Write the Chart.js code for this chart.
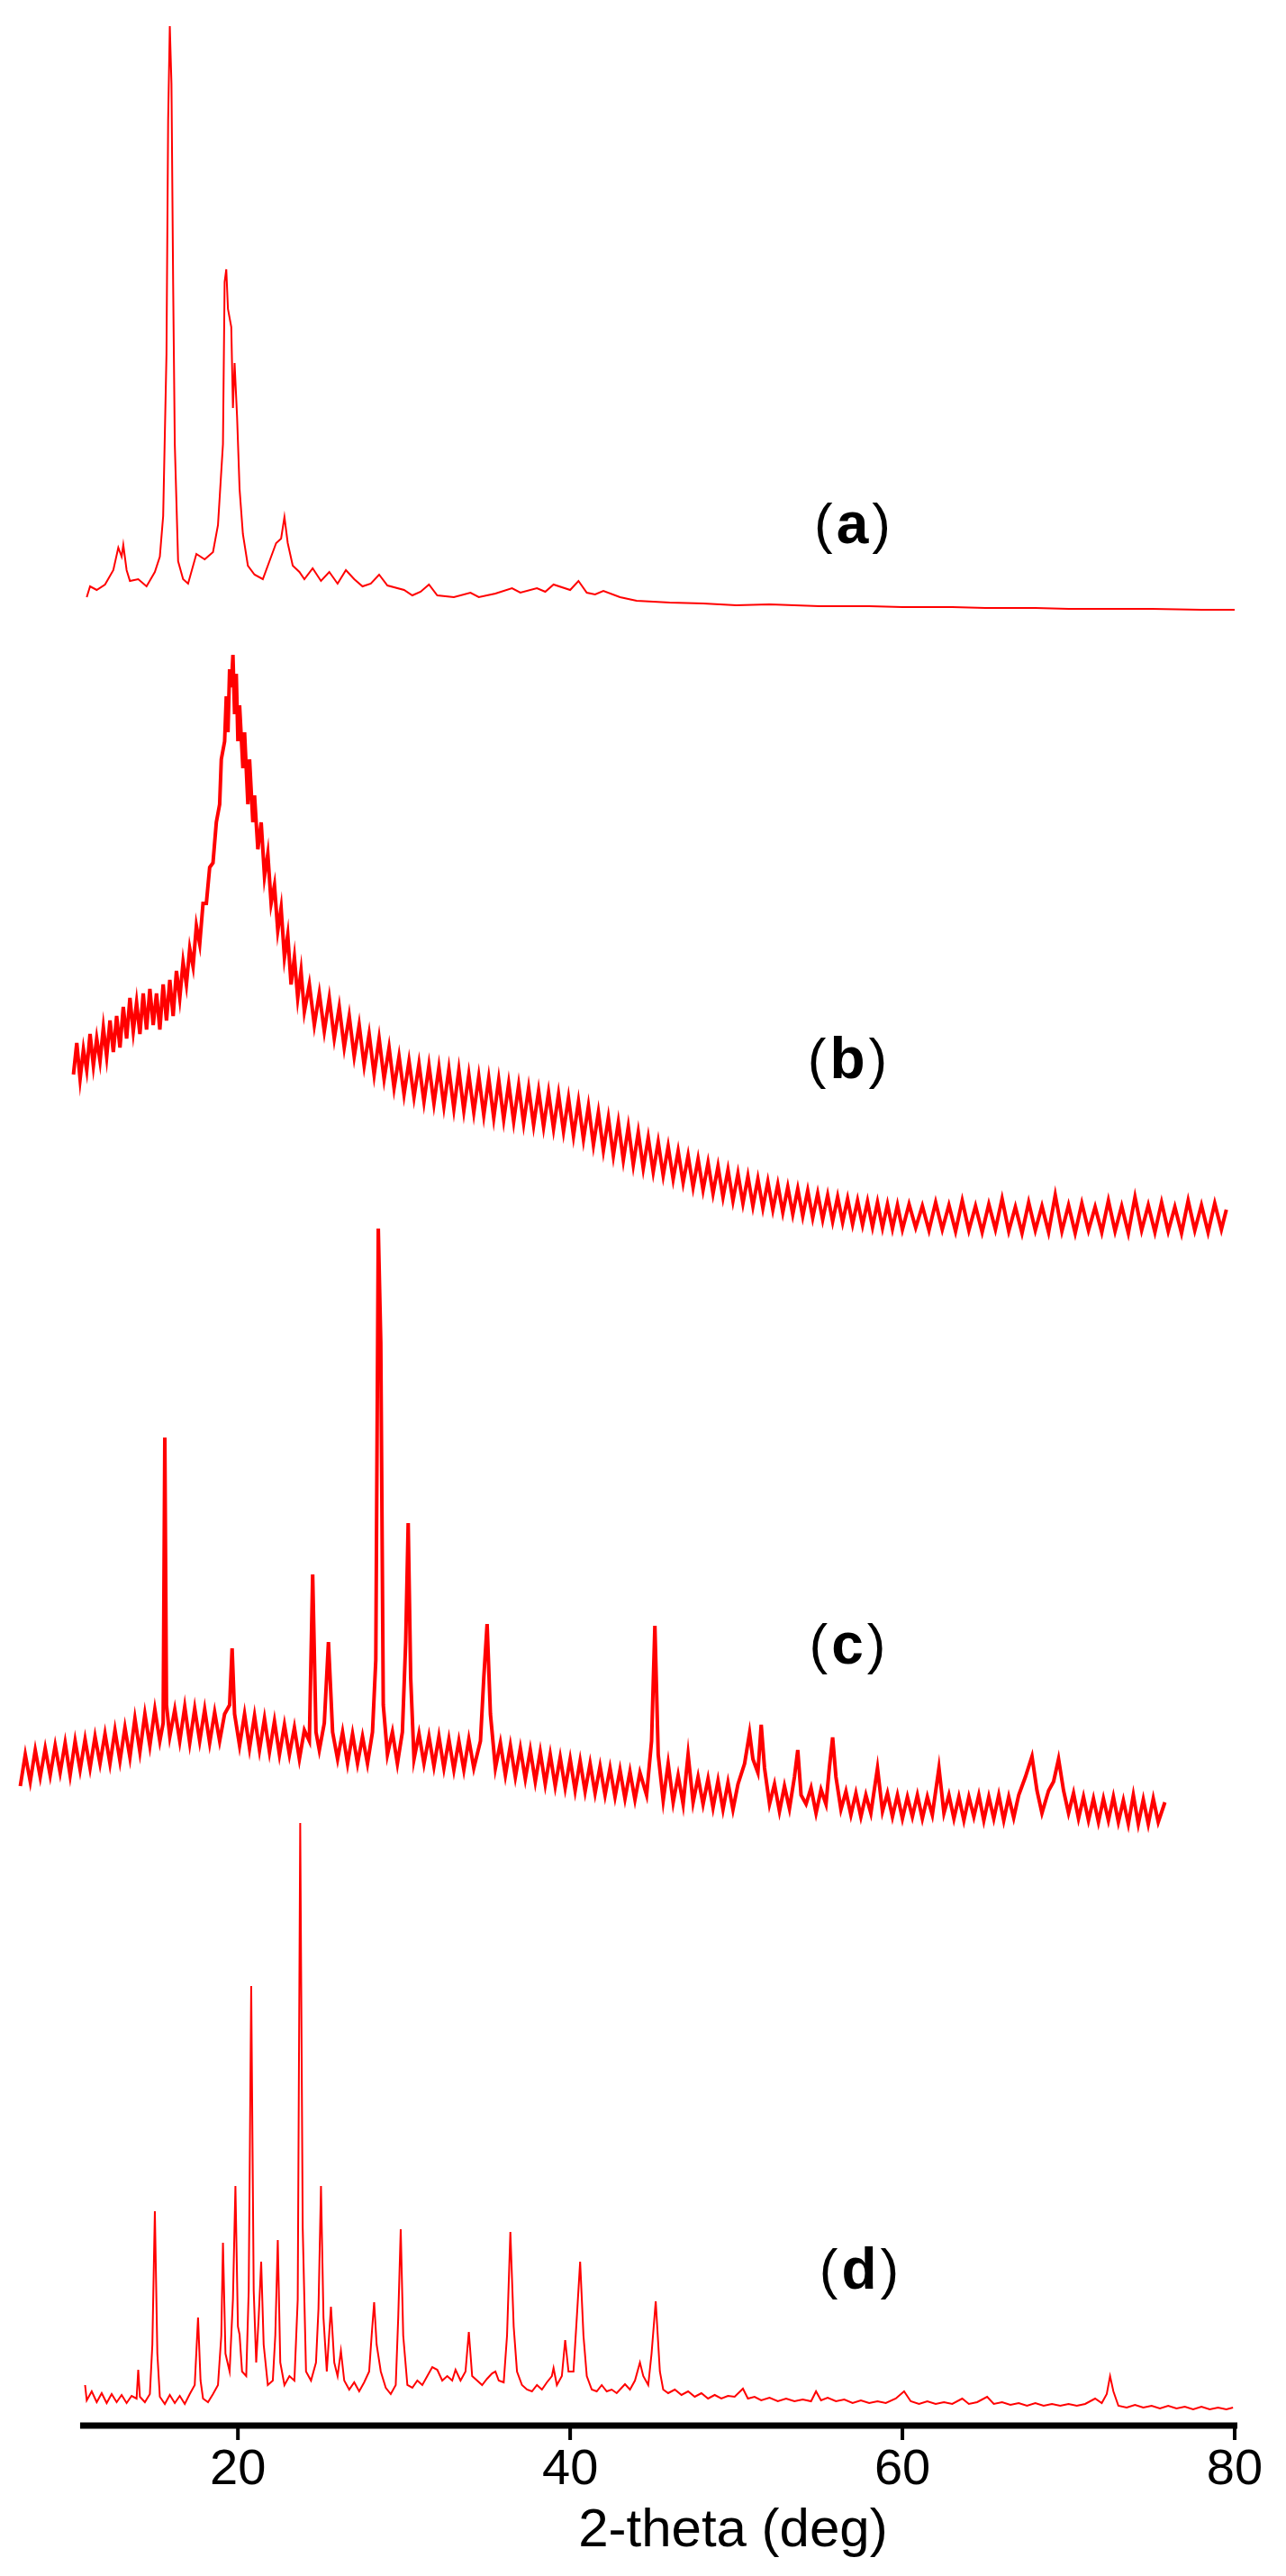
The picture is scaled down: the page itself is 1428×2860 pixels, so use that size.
<!DOCTYPE html>
<html><head><meta charset="utf-8">
<script src="https://cdn.jsdelivr.net/npm/chart.js@4/dist/chart.umd.min.js"></script>
<style>html,body{margin:0;padding:0;background:#fff}#w{width:1428px;height:2860px}</style>
</head><body><div id="w"><canvas id="c"></canvas></div>
<script>
// x: 2-theta (deg); y: stacked intensity (arbitrary units, offset per pattern)
const xTicks = [20, 40, 60, 80];
const panelLabels = ["a", "b", "c", "d"];
const seriesA = [[10.9,2030],[11.1,2042],[11.5,2038],[12,2044],[12.5,2060],[12.8,2085],[13.0,2075],[13.1,2088],[13.3,2060],[13.5,2048],[14,2050],[14.5,2042],[15,2058],[15.3,2075],[15.5,2120],[15.7,2300],[15.8,2560],[15.9,2664],[16.0,2600],[16.1,2380],[16.2,2200],[16.4,2070],[16.7,2050],[17,2045],[17.5,2078],[18,2072],[18.5,2080],[18.8,2110],[19.1,2200],[19.2,2380],[19.3,2394],[19.4,2350],[19.6,2330],[19.7,2240],[19.8,2290],[19.95,2230],[20.1,2150],[20.3,2100],[20.6,2065],[21,2055],[21.5,2050],[22,2075],[22.3,2090],[22.6,2095],[22.8,2119],[23,2090],[23.3,2065],[23.7,2058],[24,2050],[24.5,2062],[25,2048],[25.5,2058],[26,2045],[26.5,2060],[27,2050],[27.5,2042],[28,2045],[28.5,2055],[29,2043],[30,2038],[30.5,2032],[31,2036],[31.5,2044],[32,2032],[33,2030],[34,2035],[34.5,2030],[35.5,2034],[36.5,2040],[37,2035],[38,2040],[38.5,2036],[39,2044],[40,2038],[40.5,2048],[41,2035],[41.5,2033],[42,2037],[43,2030],[44,2026],[46,2024],[48,2023],[50,2021],[52,2022],[55,2020],[58,2020],[60,2019],[63,2019],[65,2018],[68,2018],[70,2017],[73,2017],[75,2017],[78,2016],[80,2016]];
const seriesB = [[10.1,1500],[10.3,1535],[10.5,1495],[10.7,1528],[10.9,1505],[11.1,1545],[11.3,1510],[11.5,1540],[11.7,1515],[11.9,1552],[12.1,1520],[12.3,1560],[12.5,1525],[12.7,1565],[12.9,1530],[13.1,1575],[13.3,1540],[13.5,1585],[13.7,1548],[13.9,1580],[14.1,1545],[14.3,1590],[14.5,1550],[14.7,1595],[14.9,1555],[15.1,1590],[15.3,1550],[15.5,1600],[15.7,1560],[15.9,1605],[16.1,1565],[16.3,1615],[16.5,1585],[16.7,1625],[16.9,1600],[17.1,1640],[17.3,1620],[17.5,1665],[17.7,1645],[17.9,1690],[18.1,1690],[18.3,1730],[18.5,1735],[18.7,1780],[18.9,1800],[19.0,1850],[19.2,1870],[19.3,1920],[19.4,1880],[19.5,1950],[19.6,1930],[19.7,1966],[19.8,1900],[19.9,1945],[20.0,1870],[20.1,1910],[20.3,1840],[20.4,1880],[20.6,1800],[20.7,1850],[20.9,1780],[21.0,1810],[21.2,1750],[21.4,1780],[21.6,1720],[21.8,1745],[22.0,1690],[22.2,1710],[22.4,1660],[22.6,1685],[22.8,1630],[23.0,1655],[23.2,1600],[23.4,1630],[23.6,1585],[23.8,1615],[24.0,1570],[24.3,1600],[24.6,1555],[24.9,1590],[25.2,1548],[25.5,1585],[25.8,1540],[26.1,1575],[26.4,1530],[26.7,1565],[27.0,1520],[27.3,1555],[27.6,1510],[27.9,1545],[28.2,1500],[28.5,1540],[28.8,1495],[29.1,1530],[29.4,1485],[29.7,1520],[30.0,1478],[30.3,1515],[30.6,1475],[30.9,1512],[31.2,1470],[31.5,1510],[31.8,1468],[32.1,1508],[32.4,1465],[32.7,1506],[33.0,1462],[33.3,1505],[33.6,1460],[33.9,1500],[34.2,1458],[34.5,1498],[34.8,1455],[35.1,1496],[35.4,1452],[35.7,1494],[36.0,1450],[36.3,1490],[36.6,1448],[36.9,1488],[37.2,1446],[37.5,1485],[37.8,1444],[38.1,1482],[38.4,1442],[38.7,1480],[39.0,1440],[39.3,1478],[39.6,1437],[39.9,1474],[40.2,1432],[40.5,1470],[40.8,1428],[41.1,1465],[41.4,1422],[41.7,1458],[42.0,1416],[42.3,1452],[42.6,1410],[42.9,1447],[43.2,1405],[43.5,1442],[43.8,1400],[44.1,1436],[44.4,1396],[44.7,1430],[45.0,1392],[45.3,1425],[45.6,1388],[45.9,1420],[46.2,1384],[46.5,1415],[46.8,1380],[47.1,1410],[47.4,1375],[47.7,1406],[48.0,1372],[48.3,1402],[48.6,1368],[48.9,1398],[49.2,1364],[49.5,1394],[49.8,1360],[50.1,1390],[50.4,1357],[50.7,1387],[51.0,1354],[51.3,1384],[51.6,1352],[51.9,1381],[52.2,1350],[52.5,1378],[52.8,1347],[53.1,1375],[53.4,1345],[53.7,1373],[54.0,1343],[54.3,1371],[54.6,1341],[54.9,1368],[55.2,1339],[55.5,1366],[55.8,1337],[56.1,1364],[56.4,1336],[56.7,1362],[57.0,1334],[57.3,1360],[57.6,1333],[57.9,1359],[58.2,1331],[58.5,1358],[58.8,1330],[59.1,1356],[59.4,1329],[59.7,1355],[60.0,1328],[60.4,1356],[60.8,1330],[61.2,1354],[61.6,1327],[62.0,1358],[62.4,1328],[62.8,1355],[63.2,1326],[63.6,1360],[64.0,1327],[64.4,1354],[64.8,1325],[65.2,1356],[65.6,1328],[66.0,1362],[66.4,1326],[66.8,1353],[67.2,1324],[67.6,1358],[68.0,1327],[68.4,1354],[68.8,1325],[69.2,1366],[69.6,1326],[70.0,1355],[70.4,1324],[70.8,1357],[71.2,1327],[71.6,1353],[72.0,1325],[72.4,1360],[72.8,1326],[73.2,1354],[73.6,1324],[74.0,1364],[74.4,1327],[74.8,1355],[75.2,1325],[75.6,1358],[76.0,1326],[76.4,1353],[76.8,1324],[77.2,1360],[77.6,1327],[78.0,1355],[78.4,1325],[78.8,1357],[79.2,1328],[79.5,1350]];
const seriesC = [[6.9,710],[7.2,745],[7.5,715],[7.8,750],[8.1,720],[8.4,752],[8.7,722],[9.0,755],[9.3,725],[9.6,758],[9.9,722],[10.2,760],[10.5,728],[10.8,762],[11.1,730],[11.4,765],[11.7,735],[12.0,768],[12.3,735],[12.6,772],[12.9,738],[13.2,775],[13.5,742],[13.8,785],[14.1,748],[14.4,790],[14.7,755],[15.0,795],[15.3,760],[15.5,780],[15.6,1097],[15.7,800],[15.9,765],[16.2,795],[16.5,760],[16.8,798],[17.1,758],[17.4,796],[17.7,760],[18.0,795],[18.3,758],[18.6,792],[18.9,760],[19.2,790],[19.5,800],[19.65,863],[19.8,790],[20.1,755],[20.4,790],[20.7,752],[21.0,788],[21.3,750],[21.6,785],[21.9,748],[22.2,782],[22.5,745],[22.8,778],[23.1,745],[23.4,775],[23.7,740],[24.0,772],[24.3,760],[24.5,945],[24.7,770],[24.9,750],[25.2,780],[25.45,870],[25.7,770],[26.0,740],[26.3,770],[26.6,735],[26.9,768],[27.2,735],[27.5,765],[27.8,735],[28.1,770],[28.3,850],[28.45,1329],[28.6,1202],[28.75,800],[29.0,745],[29.3,770],[29.6,735],[29.9,770],[30.1,870],[30.25,1002],[30.4,830],[30.6,740],[30.9,768],[31.2,735],[31.5,765],[31.8,732],[32.1,765],[32.4,730],[32.7,762],[33.0,728],[33.3,760],[33.6,728],[33.9,762],[34.2,730],[34.6,760],[34.8,830],[35.0,890],[35.2,790],[35.5,730],[35.8,758],[36.1,722],[36.4,755],[36.7,720],[37.0,752],[37.3,718],[37.6,750],[37.9,715],[38.2,748],[38.5,712],[38.8,745],[39.1,710],[39.4,742],[39.7,708],[40.0,740],[40.3,705],[40.6,738],[40.9,704],[41.2,735],[41.5,702],[41.8,732],[42.1,700],[42.4,730],[42.7,698],[43.0,728],[43.3,696],[43.6,726],[43.9,695],[44.2,725],[44.6,700],[44.9,760],[45.1,888],[45.3,745],[45.6,694],[45.9,735],[46.2,692],[46.5,722],[46.8,690],[47.1,745],[47.4,692],[47.7,720],[48.0,690],[48.3,718],[48.6,686],[48.9,716],[49.2,684],[49.5,714],[49.8,684],[50.1,712],[50.5,735],[50.8,769],[51.0,740],[51.3,725],[51.5,778],[51.7,730],[52.0,690],[52.3,712],[52.6,682],[52.9,710],[53.2,685],[53.5,720],[53.7,750],[53.9,700],[54.2,690],[54.5,708],[54.8,680],[55.1,706],[55.4,690],[55.6,730],[55.8,764],[56.0,720],[56.3,684],[56.6,704],[56.9,678],[57.2,702],[57.5,676],[57.8,700],[58.1,680],[58.5,730],[58.8,682],[59.1,702],[59.4,676],[59.7,700],[60.0,674],[60.3,698],[60.6,676],[60.9,700],[61.2,674],[61.5,698],[61.8,678],[62.2,730],[62.5,680],[62.8,700],[63.1,674],[63.4,698],[63.7,672],[64.0,698],[64.3,676],[64.6,700],[64.9,672],[65.2,698],[65.5,674],[65.8,700],[66.1,672],[66.4,698],[66.7,675],[67.0,700],[67.4,720],[67.8,743],[68.1,705],[68.4,680],[68.8,705],[69.1,715],[69.4,740],[69.7,705],[70.0,680],[70.3,702],[70.6,674],[70.9,698],[71.2,672],[71.5,696],[71.8,670],[72.1,696],[72.4,672],[72.7,698],[73.0,670],[73.3,694],[73.6,668],[73.9,700],[74.2,668],[74.5,695],[74.8,668],[75.1,696],[75.4,670],[75.8,692]];
const seriesD = [[10.8,45],[10.9,28],[11.2,38],[11.5,26],[11.8,36],[12.1,25],[12.4,35],[12.7,26],[13.0,34],[13.3,25],[13.6,33],[13.9,30],[14.0,62],[14.1,32],[14.4,26],[14.7,35],[14.85,90],[15.0,238],[15.15,80],[15.3,32],[15.6,24],[15.9,34],[16.2,25],[16.5,33],[16.8,24],[17.1,35],[17.4,45],[17.6,120],[17.75,50],[17.9,30],[18.2,26],[18.5,35],[18.8,45],[19.0,100],[19.1,203],[19.25,80],[19.5,60],[19.7,140],[19.85,266],[20.0,110],[20.1,101],[20.25,60],[20.5,55],[20.65,150],[20.8,488],[20.95,150],[21.1,70],[21.25,120],[21.4,182],[21.55,90],[21.8,45],[22.1,50],[22.25,100],[22.4,206],[22.55,70],[22.8,45],[23.1,55],[23.4,50],[23.6,140],[23.75,669],[23.9,220],[24.1,60],[24.4,50],[24.7,70],[24.85,130],[25.0,266],[25.15,120],[25.35,60],[25.6,132],[25.8,70],[26.0,55],[26.2,83],[26.4,50],[26.7,40],[27.0,48],[27.3,38],[27.6,48],[27.9,60],[28.05,100],[28.2,137],[28.35,90],[28.6,60],[28.9,42],[29.2,35],[29.5,45],[29.65,120],[29.8,218],[29.95,100],[30.2,45],[30.5,42],[30.8,50],[31.1,45],[31.4,55],[31.7,65],[32.0,62],[32.3,50],[32.6,55],[32.9,50],[33.1,62],[33.4,50],[33.7,60],[33.9,104],[34.1,55],[34.4,50],[34.7,45],[35.0,52],[35.3,58],[35.5,60],[35.7,50],[36.0,48],[36.2,100],[36.4,215],[36.6,110],[36.8,60],[37.1,45],[37.4,40],[37.7,38],[38.0,45],[38.3,40],[38.6,48],[38.9,55],[39.0,64],[39.2,45],[39.5,55],[39.7,95],[39.9,60],[40.2,60],[40.4,120],[40.6,182],[40.8,100],[41.0,55],[41.3,40],[41.6,38],[41.9,45],[42.2,38],[42.5,40],[42.8,36],[43.1,42],[43.3,46],[43.6,40],[43.9,50],[44.2,70],[44.4,55],[44.7,45],[44.9,80],[45.15,138],[45.4,60],[45.6,40],[45.9,36],[46.3,40],[46.7,34],[47.1,38],[47.5,32],[47.9,36],[48.3,30],[48.7,34],[49.1,30],[49.5,33],[49.9,32],[50.4,41],[50.7,30],[51.1,32],[51.5,28],[52,31],[52.5,27],[53,30],[53.5,27],[54,29],[54.5,27],[54.8,38],[55.1,28],[55.5,31],[56,27],[56.5,29],[57,25],[57.5,28],[58,25],[58.5,27],[59,25],[59.6,30],[60.1,38],[60.5,27],[61,24],[61.5,27],[62,24],[62.5,26],[63,24],[63.6,30],[64,24],[64.5,26],[65.1,32],[65.5,24],[66,26],[66.5,23],[67,25],[67.5,22],[68,25],[68.5,22],[69,24],[69.5,22],[70,24],[70.5,22],[71,24],[71.6,30],[72,25],[72.3,35],[72.5,55],[72.7,38],[73,22],[73.5,20],[74,23],[74.5,20],[75,22],[75.5,19],[76,22],[76.5,19],[77,21],[77.5,18],[78,21],[78.5,18],[79,20],[79.5,18],[79.9,20]];
// label anchor points in data units (deg, intensity)
const labelDeg = [57.1, 56.8, 56.8, 57.5];
const labelInt = [2108, 1514, 864, 170];
const axisTitle = '2-theta (deg)';
const titleDeg = 49.8;

const toPts = s => s.map(p => ({x: p[0], y: p[1]}));
const mk = (s, w) => ({data: toPts(s), borderColor: '#ff0000', borderWidth: w, pointRadius: 0, tension: 0, fill: false});
const FONT = '"Liberation Sans", Arial, sans-serif';

const axisPlugin = {
  id: 'axisDraw',
  afterDatasetsDraw(chart) {
    const ctx = chart.ctx, xs = chart.scales.x, ys = chart.scales.y;
    const y0 = chart.chartArea.bottom;
    ctx.save();
    ctx.strokeStyle = '#000'; ctx.lineWidth = 7; ctx.lineCap = 'butt';
    ctx.beginPath(); ctx.moveTo(xs.getPixelForValue(10.5), y0); ctx.lineTo(xs.getPixelForValue(80) + 3, y0); ctx.stroke();
    ctx.lineWidth = 4;
    xTicks.forEach(t => { const px = xs.getPixelForValue(t); ctx.beginPath(); ctx.moveTo(px, y0); ctx.lineTo(px, y0 + 16); ctx.stroke(); });
    ctx.fillStyle = '#000'; ctx.textBaseline = 'middle';
    ctx.font = '400 60px ' + FONT; ctx.textAlign = 'center';
    ctx.fillText(axisTitle, xs.getPixelForValue(titleDeg), y0 + 117);
    panelLabels.forEach((l, i) => {
      const cx = xs.getPixelForValue(labelDeg[i]), cy = ys.getPixelForValue(labelInt[i]);
      const fr = '400 62px ' + FONT, fb = '700 64px ' + FONT;
      ctx.font = fr; const wp = ctx.measureText('(').width + 4;
      ctx.font = fb; const wl = ctx.measureText(l).width + 4;
      let x = cx - (wp * 2 + wl) / 2;
      ctx.textAlign = 'left';
      ctx.font = fr; ctx.fillText('(', x, cy); x += wp;
      ctx.font = fb; ctx.fillText(l, x, cy); x += wl;
      ctx.font = fr; ctx.fillText(')', x, cy);
    });
    ctx.restore();
  }
};

new Chart(document.getElementById('c'), {
  type: 'line',
  data: { datasets: [mk(seriesA, 2), mk(seriesB, 4), mk(seriesC, 4), mk(seriesD, 2)] },
  options: {
    responsive: true, maintainAspectRatio: false, animation: false,
    layout: { padding: { left: 17, right: 57, top: 25, bottom: 0 } },
    plugins: { legend: { display: false }, tooltip: { enabled: false } },
    scales: {
      x: {
        type: 'linear', min: 6.6, max: 80,
        afterBuildTicks: s => { s.ticks = xTicks.map(v => ({value: v})); },
        afterFit: s => { s.height = 167; },
        grid: { display: false, drawTicks: false },
        border: { display: false },
        ticks: { color: '#000', padding: 16, font: { family: FONT, size: 56 }, autoSkip: false, maxRotation: 0 },
        title: { display: false }
      },
      y: { display: false, min: 0, max: 2668 }
    }
  },
  plugins: [axisPlugin]
});
</script></body></html>
